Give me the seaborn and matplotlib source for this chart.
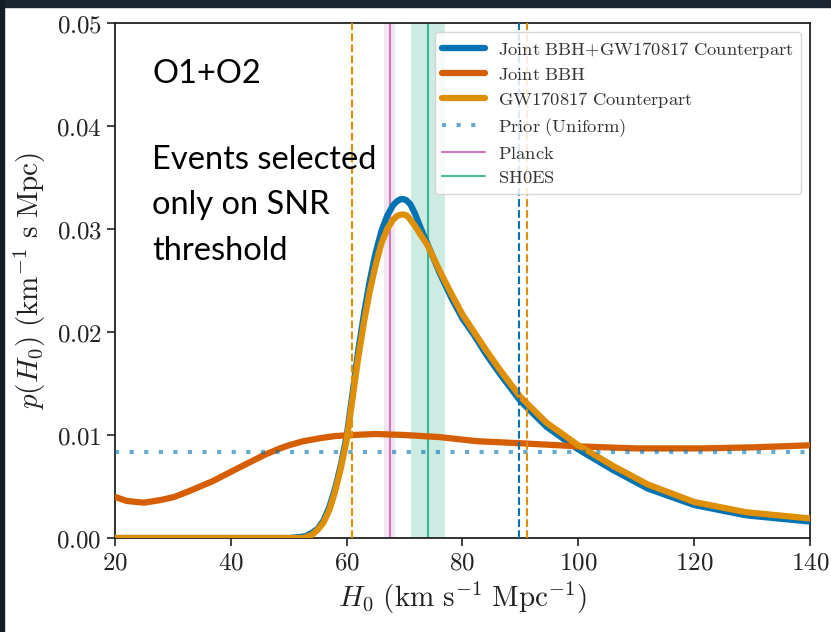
import matplotlib
matplotlib.use("Agg")
import matplotlib.pyplot as plt
import seaborn as sns
from matplotlib.ticker import FuncFormatter
from matplotlib.patches import Rectangle

# posterior on H0: joint BBH + GW170817 counterpart
h0_joint = [20, 50, 52, 53, 54, 55, 56, 57, 58, 59, 60, 61, 62, 63, 64, 65, 66, 67,
            68, 68.7, 69.3, 69.8, 70.3, 71, 71.8, 72.7, 74, 76, 78, 80, 82, 84, 86.5,
            90, 94.5, 100, 106, 112, 120, 129, 140]
p_joint = [0, 0, 0.0001, 0.0002, 0.0005, 0.0009, 0.0017, 0.0030, 0.0048, 0.0071,
           0.0099, 0.0140, 0.0182, 0.0218, 0.0250, 0.0277, 0.0298, 0.0313, 0.0323,
           0.0327, 0.0329, 0.0329, 0.0328, 0.0324, 0.0315, 0.0302, 0.0285, 0.0258,
           0.0234, 0.0213, 0.0197, 0.0179, 0.0159, 0.0133, 0.0108, 0.0086, 0.0066,
           0.0048, 0.0032, 0.0022, 0.0016]

# joint BBH only (statistical)
h0_bbh = [20, 22, 25, 28, 30.3, 33, 36.8, 41.3, 45.9, 48.5, 50, 52.5, 55.5, 58, 61,
          65, 70, 76, 82.5, 90, 100, 110, 121, 130, 140]
p_bbh = [0.0040, 0.0036, 0.00343, 0.0037, 0.0040, 0.0046, 0.0055, 0.0068, 0.0081,
         0.0087, 0.0090, 0.0094, 0.0097, 0.0099, 0.0100, 0.0101, 0.0100, 0.0098,
         0.0094, 0.0092, 0.0089, 0.0087, 0.0087, 0.0088, 0.0090]

# GW170817 counterpart only
h0_gw = [20, 52.5, 53, 54, 55, 56, 57, 58, 59, 60, 61, 62, 63, 64, 65, 66, 67, 68,
         68.8, 69.4, 69.9, 70.4, 71, 71.8, 72.7, 74, 76, 78, 80, 82, 84, 86.5, 90,
         94.5, 100, 106, 112, 120, 129, 140]
p_gw = [0, 0, 0.0001, 0.0003, 0.0008, 0.0015, 0.0027, 0.0045, 0.0068, 0.0095,
        0.0135, 0.0175, 0.0210, 0.0240, 0.0265, 0.0286, 0.0300, 0.0309, 0.0313,
        0.0314, 0.0314, 0.0313, 0.0309, 0.0303, 0.0295, 0.0284, 0.0260, 0.0238,
        0.0217, 0.0200, 0.0183, 0.0163, 0.0137, 0.0112, 0.0090, 0.0070, 0.0052,
        0.0035, 0.0025, 0.0019]

prior_level = 0.00833

planck_h0 = 67.4
planck_band = [66.4, 68.4]
shoes_h0 = 74.0
shoes_band = [71.1, 77.0]

joint_interval = [89.8]
gw_interval = [61.0, 91.2]

x_ticks = [20, 40, 60, 80, 100, 120, 140]
y_ticks = [0.00, 0.01, 0.02, 0.03, 0.04, 0.05]

c_blue = '#0173B2'
c_red = '#D55E00'
c_orange = '#DE8F05'
c_pink = '#CC78BC'
c_green = '#029E73'

sns.set_theme(style="ticks")
plt.rcParams['mathtext.fontset'] = 'cm'
plt.rcParams['font.family'] = ['DejaVu Serif']

fig = plt.figure(figsize=(8.31, 6.32), dpi=100)
ax = fig.add_axes([0.1384, 0.1487, 0.8363, 0.8149])

# slide background strips
fig.patches.append(Rectangle((0, 0.989), 1, 0.011, transform=fig.transFigure,
                             color='#1b2631', zorder=0))
fig.patches.append(Rectangle((0, 0), 0.005, 1, transform=fig.transFigure,
                             color='#141c24', zorder=0))

ax.axvspan(*planck_band, color=c_pink, alpha=0.2, lw=0, zorder=1)
ax.axvspan(*shoes_band, color=c_green, alpha=0.2, lw=0, zorder=1)

sns.lineplot(x=h0_joint, y=p_joint, ax=ax, color=c_blue, lw=4.5, zorder=3,
             label=r'$\mathrm{Joint\ BBH{+}GW170817\ Counterpart}$')
sns.lineplot(x=h0_bbh, y=p_bbh, ax=ax, color=c_red, lw=4.5, zorder=3,
             label=r'$\mathrm{Joint\ BBH}$')
sns.lineplot(x=h0_gw, y=p_gw, ax=ax, color=c_orange, lw=4.5, zorder=3,
             label=r'$\mathrm{GW170817\ Counterpart}$')
ax.axhline(prior_level, color=c_blue, alpha=0.6, lw=3, ls=(0, (1, 2.5)), zorder=4,
           label=r'$\mathrm{Prior\ (Uniform)}$')
ax.axvline(planck_h0, color=c_pink, lw=1.5, zorder=2, label=r'$\mathrm{Planck}$')
ax.axvline(shoes_h0, color=c_green, lw=1.5, alpha=0.7, zorder=2,
           label=r'$\mathrm{SH0ES}$')

for v in joint_interval:
    ax.axvline(v, color=c_blue, lw=1.5, ls='--', zorder=5)
for v in gw_interval:
    ax.axvline(v, color=c_orange, lw=1.5, ls='--', zorder=5)

ax.set_xlim(20, 140)
ax.set_ylim(0, 0.05)
ax.set_xticks(x_ticks)
ax.set_yticks(y_ticks)
ax.xaxis.set_major_formatter(FuncFormatter(lambda v, p: f'${v:.0f}$'))
ax.yaxis.set_major_formatter(FuncFormatter(lambda v, p: f'${v:.2f}$'))
ax.tick_params(labelsize=18, length=6, width=1.2, color='#222222',
               labelcolor='#222222', direction='out')
for s in ax.spines.values():
    s.set_linewidth(1.3)
    s.set_color('#222222')

ax.set_xlabel(r'$H_0\ (\mathrm{km\ s^{-1}\ Mpc^{-1}})$', fontsize=21, color='#222222',
              labelpad=4)
ax.set_ylabel(r'$p(H_0)\ (\mathrm{km^{-1}\ s\ Mpc})$', fontsize=21, color='#222222',
              labelpad=6)

leg = ax.legend(loc='upper right', fontsize=13.3, handlelength=2.3, handletextpad=0.7,
                labelspacing=0.33, borderaxespad=0.5, fancybox=True, framealpha=0.85,
                edgecolor='#d0d0d0')
for t in leg.get_texts():
    t.set_color('#333333')

fig.text(0.183, 0.8687, 'O1+O2', fontsize=23.5, family=['Lato', 'DejaVu Sans'],
         color='black', va='baseline')
# multi-line baseline anchors on the last line
fig.text(0.183, 0.5886, 'Events selected\nonly on SNR\nthreshold', fontsize=23.5,
         family=['Lato', 'DejaVu Sans'], color='black', va='baseline', linespacing=1.65)

fig.savefig('out.png', dpi=100, facecolor='white')
